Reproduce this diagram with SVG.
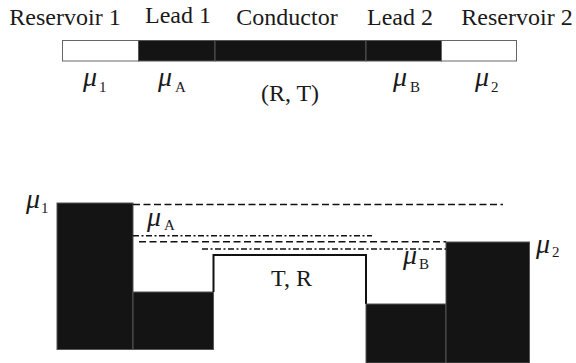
<svg xmlns="http://www.w3.org/2000/svg" width="576" height="363" viewBox="0 0 576 363">
<style>
text{fill:#1a1a1a}
.t{font-size:24px}
.mu{font-size:28px;font-style:italic}
.sub{font-size:15px}
.blk{fill:#141414;stroke:#555;stroke-width:1}
.wht{fill:#fff;stroke:#666;stroke-width:1}
.dash{fill:none;stroke:#111;stroke-width:1.6;stroke-dasharray:7 3.5}
.dd{fill:none;stroke:#111;stroke-width:1.6;stroke-dasharray:6 2.5 2 2.5}
</style>
<rect width="576" height="363" fill="#fff"/>
<g font-family="Liberation Serif, serif">
<g id="top-bar">
<g id="reservoir1"><rect class="wht" x="62.5" y="40.5" width="76" height="20.5"/><text class="t" x="65" y="25" text-anchor="middle">Reservoir 1</text></g>
<g id="lead1"><rect class="blk" x="138.5" y="40.5" width="76.5" height="20.5"/><text class="t" x="178" y="23" text-anchor="middle">Lead 1</text></g>
<g id="conductor"><rect class="blk" x="215" y="40.5" width="151" height="20.5"/><text class="t" x="287" y="25" text-anchor="middle">Conductor</text></g>
<g id="lead2"><rect class="blk" x="366" y="40.5" width="75.5" height="20.5"/><text class="t" x="400" y="25" text-anchor="middle">Lead 2</text></g>
<g id="reservoir2"><rect class="wht" x="441.5" y="40.5" width="75" height="20.5"/><text class="t" x="517" y="25" text-anchor="middle">Reservoir 2</text></g>
<g id="top-labels">
<text class="mu" x="83" y="86">μ</text><text class="sub" x="99" y="91.5">1</text>
<text class="mu" x="158" y="86">μ</text><text class="sub" x="175" y="91.5">A</text>
<text class="t" x="290" y="101" text-anchor="middle">(R, T)</text>
<text class="mu" x="393" y="86">μ</text><text class="sub" x="410" y="91.5">B</text>
<text class="mu" x="475" y="86">μ</text><text class="sub" x="491" y="91.5">2</text>
</g>
</g>
<g id="profile">
<g id="res1-level"><rect class="blk" x="57" y="203" width="76" height="146.5"/></g>
<g id="lead1-level"><rect class="blk" x="133" y="292" width="80.5" height="57.5"/></g>
<g id="conductor-level"><path d="M213.5 292 V255 H366 V304" fill="none" stroke="#111" stroke-width="2"/><text class="t" x="291.5" y="286" text-anchor="middle">T, R</text></g>
<g id="lead2-level"><rect class="blk" x="366" y="304" width="80" height="59"/></g>
<g id="res2-level"><rect class="blk" x="446" y="242" width="83.5" height="121"/></g>
</g>
<g id="connectors">
<line class="dash" x1="133" y1="204.5" x2="503" y2="204.5"/>
<line class="dd" x1="133" y1="235.7" x2="372" y2="235.7"/>
<line class="dash" x1="139" y1="241.7" x2="446" y2="241.7"/>
<line class="dd" x1="202" y1="249" x2="446" y2="249"/>
</g>
<g id="level-labels">
<text class="mu" x="26" y="208">μ</text><text class="sub" x="41" y="213">1</text>
<text class="mu" x="147" y="226">μ</text><text class="sub" x="164" y="230">A</text>
<text class="mu" x="403" y="264">μ</text><text class="sub" x="419" y="269">B</text>
<text class="mu" x="536" y="253">μ</text><text class="sub" x="552" y="257">2</text>
</g>
</g>
</svg>
